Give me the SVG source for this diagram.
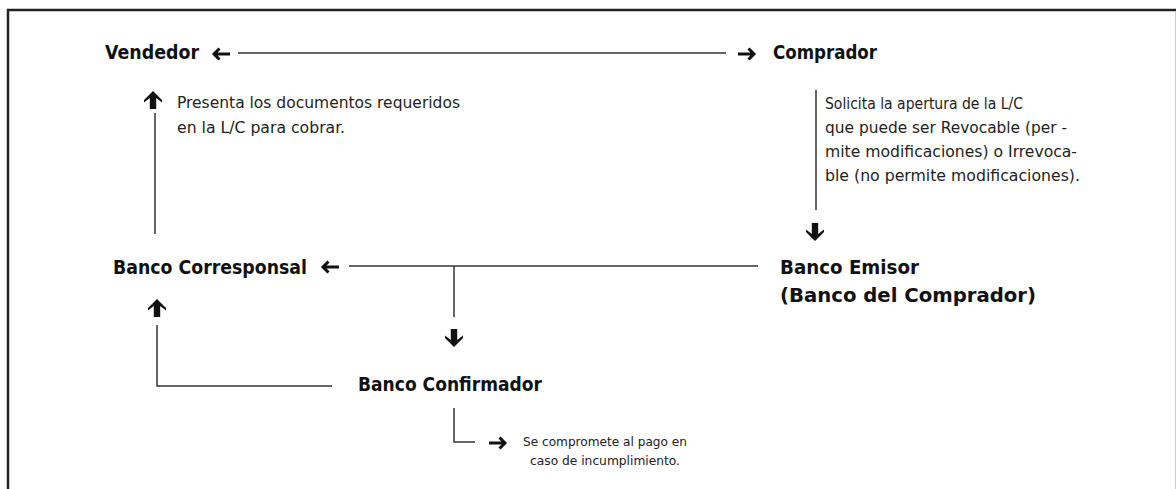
<svg xmlns="http://www.w3.org/2000/svg" width="1176" height="489" viewBox="0 0 1176 489">
<style>
.lbl{font-family:"DejaVu Sans Condensed","DejaVu Sans","Liberation Sans",sans-serif;font-weight:bold;font-size:20px;fill:#111}
.note{font-family:"DejaVu Sans Condensed","DejaVu Sans","Liberation Sans",sans-serif;font-size:16.5px;fill:#222}
.small{font-family:"DejaVu Sans Condensed","DejaVu Sans","Liberation Sans",sans-serif;font-size:13px;fill:#222}
.ln{stroke:#333;stroke-width:1.5;fill:none}
.thin{stroke:#111;stroke-width:3;fill:none;stroke-linecap:butt;stroke-linejoin:miter}
.fat{fill:#111}
</style>
<defs>
<path id="lar" d="M8,0 H-7 M-2.5,-5.5 L-8,0 L-2.5,5.5" class="thin"/>
<path id="rar" d="M-8,0 H7 M2.5,-5.5 L8,0 L2.5,5.5" class="thin"/>
<path id="uar" d="M0,-9 L9,0 L9,2.5 L3.2,-2 L3.2,9 L-3.2,9 L-3.2,-2 L-9,2.5 L-9,0 Z" class="fat"/>
<path id="dar" d="M0,9 L9,0 L9,-2.5 L3.2,2 L3.2,-9 L-3.2,-9 L-3.2,2 L-9,-2.5 L-9,0 Z" class="fat"/>
</defs>
<rect width="1176" height="489" fill="#fff"/>
<g id="frame">
<line x1="7" y1="10" x2="1176" y2="10" stroke="#222" stroke-width="2.5"/>
<line x1="8" y1="9" x2="8" y2="489" stroke="#222" stroke-width="2.5"/>
<line x1="1175.5" y1="11" x2="1175.5" y2="489" stroke="#ccc" stroke-width="1"/>
</g>
<g id="connectors">
<line class="ln" x1="238" y1="53" x2="726" y2="53"/>
<use href="#lar" x="222" y="54"/>
<use href="#rar" x="746" y="54"/>
<line class="ln" x1="155" y1="113" x2="155" y2="234"/>
<use href="#uar" x="153" y="100"/>
<line class="ln" x1="816" y1="90" x2="816" y2="210"/>
<use href="#dar" x="815" y="232"/>
<line class="ln" x1="349" y1="266" x2="758" y2="266"/>
<use href="#lar" x="331" y="267"/>
<line class="ln" x1="454" y1="266" x2="454" y2="317"/>
<use href="#dar" x="454" y="338"/>
<use href="#uar" x="157" y="308"/>
<polyline class="ln" points="157,325 157,386 332,386"/>
<polyline class="ln" points="454,408 454,442 475,442"/>
<use href="#rar" x="497" y="443"/>
</g>
<g id="vendedor"><text class="lbl" x="105" y="59" textLength="94" lengthAdjust="spacingAndGlyphs">Vendedor</text></g>
<g id="comprador"><text class="lbl" x="773" y="59" textLength="104" lengthAdjust="spacingAndGlyphs">Comprador</text></g>
<g id="nota-presenta">
<text class="note" x="177" y="108" textLength="283" lengthAdjust="spacingAndGlyphs">Presenta los documentos requeridos</text>
<text class="note" x="177" y="133" textLength="168" lengthAdjust="spacingAndGlyphs">en la L/C para cobrar.</text>
</g>
<g id="nota-solicita">
<text class="note" x="825" y="109" textLength="198" lengthAdjust="spacingAndGlyphs">Solicita la apertura de la L/C</text>
<text class="note" x="825" y="133" textLength="242" lengthAdjust="spacingAndGlyphs">que puede ser Revocable (per -</text>
<text class="note" x="825" y="157" textLength="252" lengthAdjust="spacingAndGlyphs">mite modificaciones) o Irrevoca-</text>
<text class="note" x="825" y="181" textLength="255" lengthAdjust="spacingAndGlyphs">ble (no permite modificaciones).</text>
</g>
<g id="banco-corresponsal"><text class="lbl" x="113" y="274" textLength="194" lengthAdjust="spacingAndGlyphs">Banco Corresponsal</text></g>
<g id="banco-emisor">
<text class="lbl" x="780" y="274" textLength="139" lengthAdjust="spacingAndGlyphs">Banco Emisor</text>
<text class="lbl" x="780" y="302" textLength="256" lengthAdjust="spacingAndGlyphs">(Banco del Comprador)</text>
</g>
<g id="banco-confirmador"><text class="lbl" x="358" y="391" textLength="184" lengthAdjust="spacingAndGlyphs">Banco Confirmador</text></g>
<g id="nota-compromete">
<text class="small" x="523" y="446" textLength="164" lengthAdjust="spacingAndGlyphs">Se compromete al pago en</text>
<text class="small" x="530" y="465" textLength="150" lengthAdjust="spacingAndGlyphs">caso de incumplimiento.</text>
</g>
</svg>
